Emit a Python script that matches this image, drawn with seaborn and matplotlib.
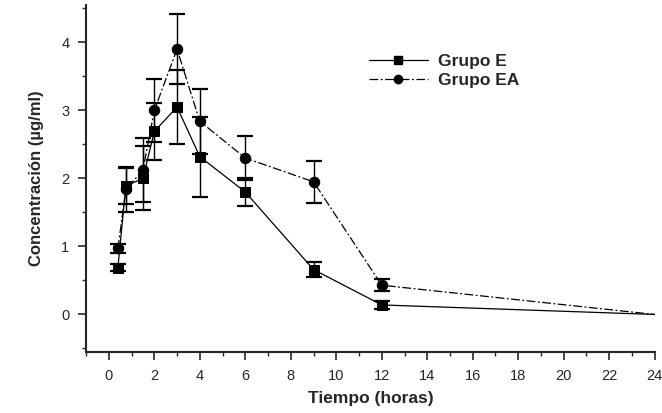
import numpy as np
import pandas as pd
import matplotlib
matplotlib.use('Agg')
import matplotlib.pyplot as plt
from matplotlib.ticker import MultipleLocator
from matplotlib.lines import Line2D
import seaborn as sns

# tiempos de muestreo (horas)
tiempo = [0.4, 0.75, 1.5, 2, 3, 4, 6, 9, 12, 24]

# concentraciones medias y desviaciones
conc_e = [0.69, 1.89, 2.00, 2.69, 3.05, 2.32, 1.80, 0.66, 0.14, 0.0]
err_e = [0.05, 0.26, 0.47, 0.42, 0.54, 0.59, 0.20, 0.11, 0.06, 0.0]
conc_ea = [0.97, 1.84, 2.12, 3.00, 3.90, 2.84, 2.30, 1.95, 0.43, 0.0]
err_ea = [0.07, 0.33, 0.47, 0.46, 0.51, 0.48, 0.32, 0.31, 0.09, 0.0]

grupos = ['Grupo E', 'Grupo EA']
marcas = {grupos[0]: 's', grupos[1]: 'o'}
trazos = {grupos[0]: '', grupos[1]: (7, 2, 1.5, 2)}

df = pd.DataFrame({
    'tiempo': tiempo * 2,
    'conc': conc_e + conc_ea,
    'grupo': [grupos[0]] * len(tiempo) + [grupos[1]] * len(tiempo),
})

sns.set_style('ticks')
plt.rcParams['font.family'] = ['Liberation Sans', 'DejaVu Sans']

fig = plt.figure(figsize=(6.62, 4.13), dpi=100)
ax = fig.add_axes([0.130, 0.148, 0.859, 0.840])

# barras de error (sin el punto de 24 h)
ax.errorbar(tiempo[:-1], conc_e[:-1], yerr=err_e[:-1], fmt='none', ecolor='black',
            elinewidth=1.0, capsize=6, capthick=1.6, zorder=2)
ax.errorbar(tiempo[:-1], conc_ea[:-1], yerr=err_ea[:-1], fmt='none', ecolor='black',
            elinewidth=1.0, capsize=6, capthick=1.6, zorder=2)

sns.lineplot(data=df, x='tiempo', y='conc', hue='grupo', style='grupo',
             palette={grupos[0]: 'black', grupos[1]: 'black'},
             markers=marcas, dashes=trazos,
             markersize=7.5, linewidth=0.9, markeredgecolor='black',
             markevery=list(range(len(tiempo) - 1)),
             legend=False, ax=ax, zorder=3)

ax.set_xlim(-1, 24)
ax.set_ylim(-0.55, 4.55)
ax.xaxis.set_major_locator(MultipleLocator(2))
ax.xaxis.set_minor_locator(MultipleLocator(1))
ax.yaxis.set_major_locator(MultipleLocator(1))
ax.yaxis.set_minor_locator(MultipleLocator(0.5))
ax.tick_params(which='major', direction='out', length=6, width=1.2, labelsize=10.5, pad=6)
ax.tick_params(which='minor', direction='out', length=3, width=1.0)

for s in ['top', 'right']:
    ax.spines[s].set_visible(False)
for s in ['left', 'bottom']:
    ax.spines[s].set_linewidth(1.5)

ax.set_xlabel('Tiempo (horas)', fontsize=12.5, fontweight='bold', labelpad=6)
ax.set_ylabel('Concentración (µg/ml)', fontsize=12, fontweight='bold', labelpad=12)

handles = [Line2D([], [], color='black', linewidth=0.9,
                  linestyle='-' if g == grupos[0] else (0, trazos[g]),
                  marker=marcas[g], markersize=6)
           for g in grupos]
ax.legend(handles, grupos, loc='upper left', bbox_to_anchor=(0.47, 0.905), frameon=False,
          handlelength=3.4, prop={'weight': 'bold', 'size': 12.5},
          labelspacing=0.25, handletextpad=0.6)

fig.savefig('out.png', dpi=100)
